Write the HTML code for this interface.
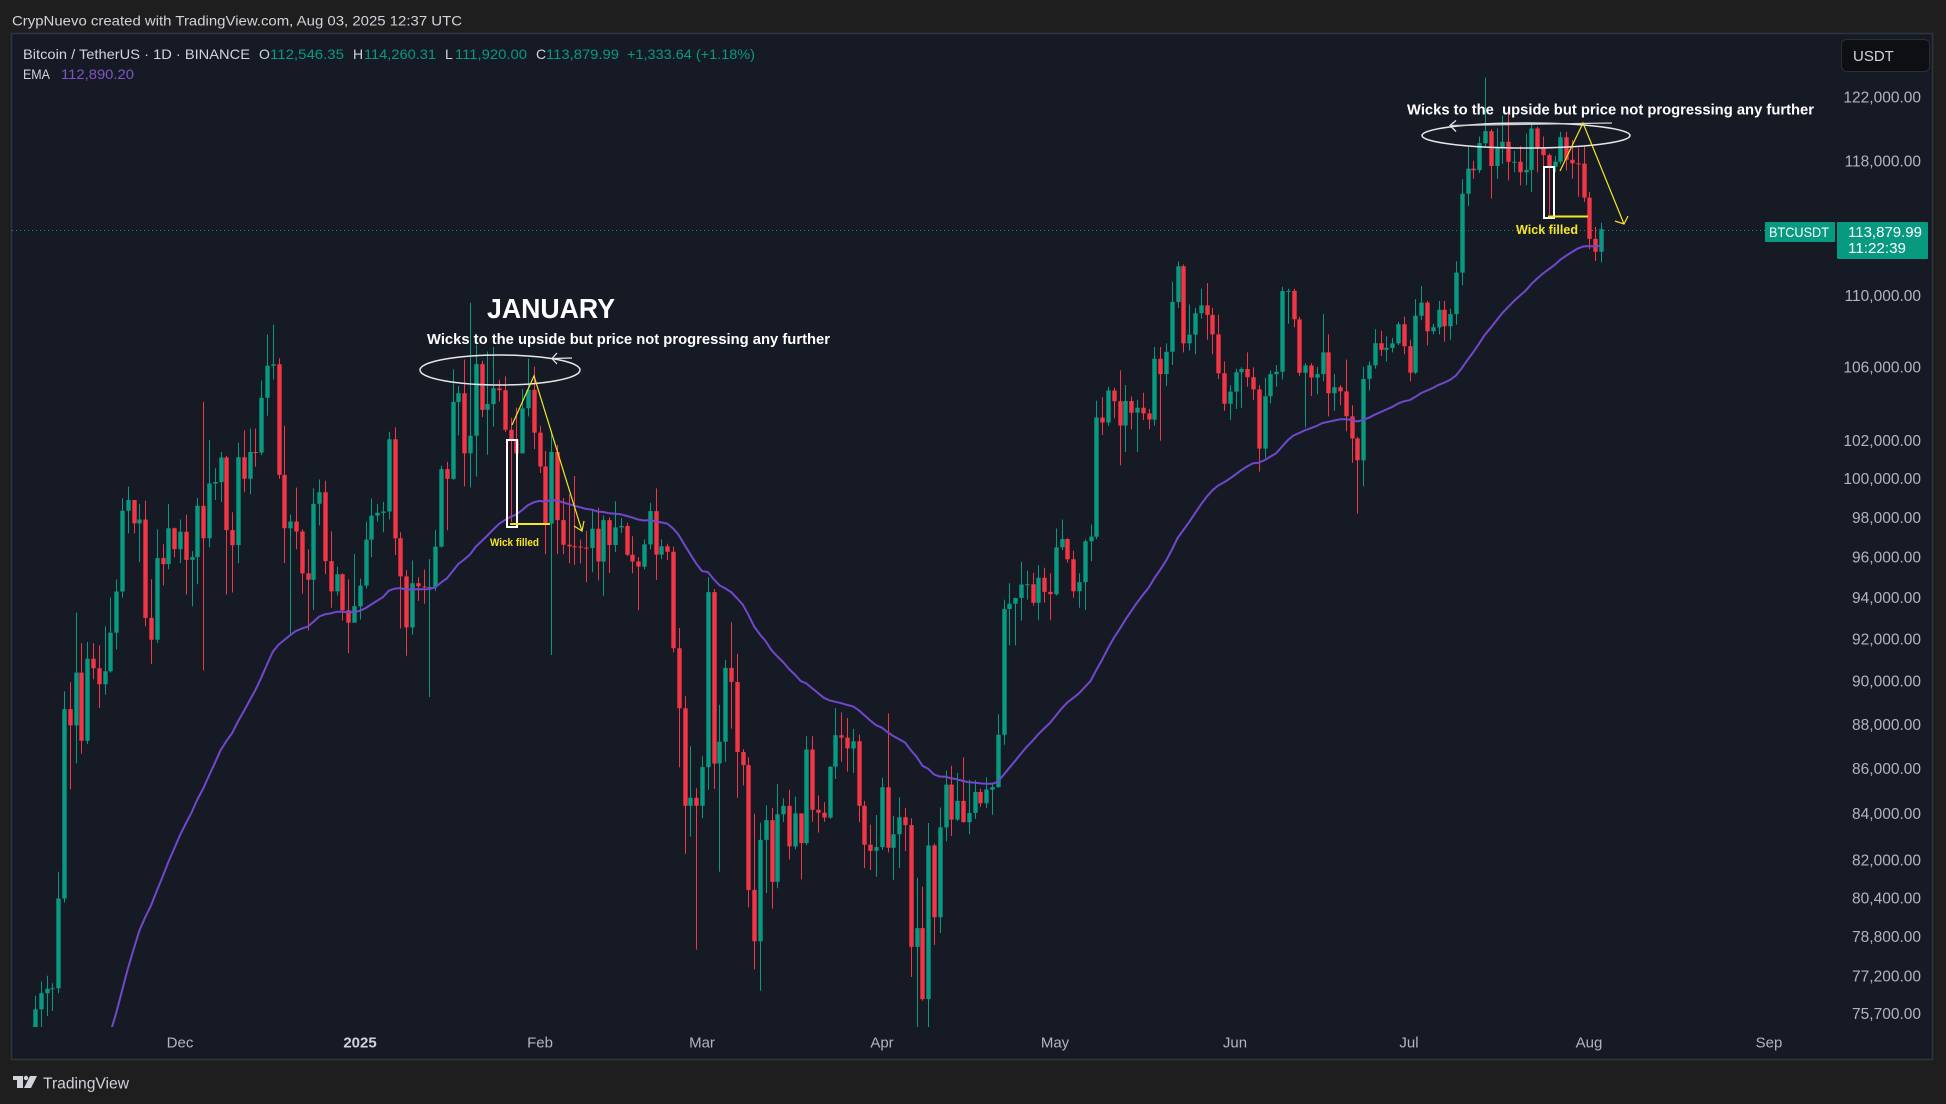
<!DOCTYPE html>
<html><head><meta charset="utf-8">
<style>
html,body{margin:0;padding:0;background:#1e1e1e;width:1946px;height:1104px;overflow:hidden;position:relative}
svg{display:block;position:absolute;left:0;top:0}
text{font-family:"Liberation Sans",sans-serif}
</style></head>
<body>
<svg id="s" width="1946" height="1104" viewBox="0 0 1946 1104" xmlns="http://www.w3.org/2000/svg">
<defs><clipPath id="plot"><rect x="12" y="34" width="1822" height="993"/></clipPath></defs>
<rect width="1946" height="1104" fill="#1e1e1e"/>
<text x="12" y="25.5" font-size="14" fill="#d1d4dc" textLength="450" lengthAdjust="spacingAndGlyphs">CrypNuevo created with TradingView.com, Aug 03, 2025 12:37 UTC</text>
<rect x="11.5" y="33.5" width="1921" height="1026" fill="#161a25" stroke="#30343e" stroke-width="1.5"/>

<!-- legend -->
<g font-size="14">
<text x="23" y="59" fill="#d1d4dc" textLength="227" lengthAdjust="spacingAndGlyphs">Bitcoin / TetherUS · 1D · BINANCE</text>
<text x="259" y="59" fill="#d1d4dc">O</text>
<text x="270" y="59" fill="#089981" textLength="74" lengthAdjust="spacingAndGlyphs">112,546.35</text>
<text x="353" y="59" fill="#d1d4dc">H</text>
<text x="364" y="59" fill="#089981" textLength="72" lengthAdjust="spacingAndGlyphs">114,260.31</text>
<text x="445" y="59" fill="#d1d4dc">L</text>
<text x="455" y="59" fill="#089981" textLength="72" lengthAdjust="spacingAndGlyphs">111,920.00</text>
<text x="536" y="59" fill="#d1d4dc">C</text>
<text x="546" y="59" fill="#089981" textLength="73" lengthAdjust="spacingAndGlyphs">113,879.99</text>
<text x="627" y="59" fill="#089981" textLength="128" lengthAdjust="spacingAndGlyphs">+1,333.64 (+1.18%)</text>
<text x="23" y="79" fill="#d1d4dc" textLength="27" lengthAdjust="spacingAndGlyphs">EMA</text>
<text x="61" y="79" fill="#7e57c2" textLength="73" lengthAdjust="spacingAndGlyphs">112,890.20</text>
</g>

<!-- USDT button -->
<rect x="1841.5" y="39.5" width="88" height="32" rx="5" fill="#0e0f12" stroke="#2a2e39"/>
<text x="1853" y="61" font-size="15" fill="#d1d4dc">USDT</text>

<!-- current price line -->
<line x1="12" y1="230.5" x2="1765" y2="230.5" stroke="#089981" stroke-width="1" stroke-dasharray="1,3"/>

<!-- candles -->
<g clip-path="url(#plot)">
<path id="gw" stroke="#089981" stroke-width="1" fill="none"/>
<path id="rw" stroke="#f23645" stroke-width="1" fill="none"/>
<path id="gb" fill="#089981"/>
<path id="rb" fill="#f23645"/>
<polyline id="ema" fill="none" stroke="#7048cc" stroke-width="2" stroke-linejoin="round"/>
</g>

<!-- price axis labels -->
<g font-size="15.5" fill="#b2b5be" text-anchor="end">
<text x="1921" y="102.3">122,000.00</text>
<text x="1921" y="166.3">118,000.00</text>
<text x="1921" y="301.1">110,000.00</text>
<text x="1921" y="372.3">106,000.00</text>
<text x="1921" y="446.2">102,000.00</text>
<text x="1921" y="484.2">100,000.00</text>
<text x="1921" y="523">98,000.00</text>
<text x="1921" y="562.6">96,000.00</text>
<text x="1921" y="603.1">94,000.00</text>
<text x="1921" y="644.4">92,000.00</text>
<text x="1921" y="686.6">90,000.00</text>
<text x="1921" y="729.8">88,000.00</text>
<text x="1921" y="773.9">86,000.00</text>
<text x="1921" y="819.1">84,000.00</text>
<text x="1921" y="865.4">82,000.00</text>
<text x="1921" y="903.3">80,400.00</text>
<text x="1921" y="941.9">78,800.00</text>
<text x="1921" y="981.3">77,200.00</text>
<text x="1921" y="1019">75,700.00</text>
</g>

<!-- price tag -->
<rect x="1765" y="222" width="70" height="20" rx="1" fill="#089981"/>
<text x="1769" y="237" font-size="14" fill="#ffffff" textLength="60" lengthAdjust="spacingAndGlyphs">BTCUSDT</text>
<rect x="1837" y="222" width="91" height="37" rx="1" fill="#089981"/>
<text x="1848" y="237" font-size="15" fill="#ffffff" textLength="74" lengthAdjust="spacingAndGlyphs">113,879.99</text>
<text x="1848" y="253" font-size="15" fill="#ffffff" textLength="58" lengthAdjust="spacingAndGlyphs">11:22:39</text>

<!-- time axis -->
<g font-size="15" fill="#b2b5be" text-anchor="middle">
<text x="180" y="1047.5">Dec</text>
<text x="360" y="1047.5" font-weight="bold" fill="#d1d4dc">2025</text>
<text x="540" y="1047.5">Feb</text>
<text x="702" y="1047.5">Mar</text>
<text x="882" y="1047.5">Apr</text>
<text x="1055" y="1047.5">May</text>
<text x="1235" y="1047.5">Jun</text>
<text x="1409" y="1047.5">Jul</text>
<text x="1589" y="1047.5">Aug</text>
<text x="1769" y="1047.5">Sep</text>
</g>

<!-- January annotation -->
<text x="487" y="318" font-size="28" font-weight="bold" fill="#ffffff" textLength="128" lengthAdjust="spacingAndGlyphs">JANUARY</text>
<text x="427" y="344" font-size="15" font-weight="bold" fill="#ffffff" textLength="403" lengthAdjust="spacingAndGlyphs">Wicks to the upside but price not progressing any further</text>
<ellipse cx="500" cy="370" rx="80" ry="15" fill="none" stroke="#e6e6e6" stroke-width="1.5"/>
<polyline points="557,353 552,358.5 557,364" fill="none" stroke="#e6e6e6" stroke-width="1.3"/>
<line x1="552" y1="358.5" x2="572" y2="358" stroke="#e6e6e6" stroke-width="1.3"/>
<rect x="507" y="440" width="10" height="87" fill="none" stroke="#ffffff" stroke-width="2"/>
<line x1="510" y1="524" x2="550" y2="524" stroke="#f5e526" stroke-width="2"/>
<polyline points="512,425 534,376 582,531" fill="none" stroke="#f5e526" stroke-width="1.2"/>
<polyline points="574,526 582,531 584,521" fill="none" stroke="#f5e526" stroke-width="1.2"/>
<text x="490" y="546" font-size="11" font-weight="bold" fill="#f5e526" textLength="49" lengthAdjust="spacingAndGlyphs">Wick filled</text>

<!-- July annotation -->
<text x="1407" y="114.5" font-size="15" font-weight="bold" fill="#ffffff" style="white-space:pre" textLength="407" lengthAdjust="spacingAndGlyphs">Wicks to the  upside but price not progressing any further</text>
<ellipse cx="1526" cy="135.5" rx="104" ry="12.5" fill="none" stroke="#e6e6e6" stroke-width="1.5"/>
<line x1="1612" y1="123" x2="1450" y2="125.5" stroke="#d0d0d0" stroke-width="1.3"/>
<polyline points="1456,120.5 1450,125.5 1456,131.5" fill="none" stroke="#e6e6e6" stroke-width="1.3"/>
<rect x="1544" y="167" width="10" height="51" fill="none" stroke="#ffffff" stroke-width="2"/>
<line x1="1548" y1="216.5" x2="1588" y2="216.5" stroke="#f5e526" stroke-width="2"/>
<polyline points="1560,171 1583,123 1624,224" fill="none" stroke="#f5e526" stroke-width="1.2"/>
<polyline points="1615,221 1624,224 1628,216" fill="none" stroke="#f5e526" stroke-width="1.2"/>
<text x="1516" y="234" font-size="13" font-weight="bold" fill="#f5e526" textLength="62" lengthAdjust="spacingAndGlyphs">Wick filled</text>

<!-- footer logo -->
<g fill="#d1d4dc">
<rect x="13" y="1076" width="10" height="4"/>
<rect x="17" y="1076" width="6" height="12"/>
<circle cx="26" cy="1078" r="2.2"/>
<polygon points="30,1076 37,1076 31,1088 24,1088"/>
</g>
<text x="43" y="1088.5" font-size="16" fill="#d1d4dc" textLength="86" lengthAdjust="spacingAndGlyphs">TradingView</text>
</svg>

<script>
(function(){
var M = [
[-25,"76.4,69.3,75.86;76.97,74.48,76.5;77.2,75.6,76.68;76.9,75.8,76.7;81.5,76.5,80.37;89.53,80.2,88.7;89.95,85.07,87.95;93.27,86.23,90.4;91.79,86.67,87.25;91.85,87.1,91.05;91.8,90.09,90.6;91.7,88.75,89.85;92.6,89.37,90.46;94,90.4,92.3;94.9,91.5,94.3;98.98,94,98.35;99.59,97.2,98.9;98.8,97.2,97.7;98.7,95.75,97.9;98.87,92.6,93.01;94.9,90.8,91.96;97.4,91.8,95.95;96.65,94.6,95.65;98.7,95.4,97.45;97.49,96,96.4"],
[0,"97.9,95.7,97.28;98.15,94.15,95.86;96.3,93.58,96;99,94.65,98.6;104.09,90.5,96.95;102.04,96.5,99.75;100.55,98.9,99.83;101.4,98.8,101.11;101.2,94.15,97.36;98.27,94.25,96.6;101.9,95.7,101.12;102.54,99.3,100;102.65,99.2,101.4;102.65,100.63,101.37;105.25,101.23,104.3;107.79,103.33,106.06;108.35,105.3,106.14;106.47,100,100.2;102.8,95.7,97.46;98.15,92.23,97.8;99.54,96.4,97.29;97.4,94.2,95.19;96.4,92.4,94.88;99.5,93.4,98.7;99.96,97.6,99.3;99.89,95.15,95.8;97.3,93.5,94.3;95.53,94.1,95.15;95.2,92.88,93.38;94.9,91.32,92.78;96.15,92.9,93.58"],
[31,"94.93,92.93,94.59;97.8,94.45,96.88;98.98,96,98.1;98.7,97.8,98.24;98.8,97.25,98.31;102.48,97.9,102.08;102.72,96.1,96.95;97.25,92.5,95.04;95.35,91.2,92.55;95.83,92.2,94.7;95,93.84,94.55;95.38,93.7,94.5;95.9,89.26,94.52;97.37,94.32,96.53;100.68,96.48,100.5;100.88,97.35,99.99;105.86,99.95,104.08;104.95,102.28,104.55;106.4,99.6,101.33;109.59,99.55,102.26;107.24,100.1,106.15;106.33,103.26,103.65;106.85,101.26,103.96;107.1,102.75,104.82;105.29,104.1,104.71;105.47,102.46,102.58;103.22,97.78,102.08;103.78,100.28,101.33;104.78,101.33,103.73;106.46,103.3,104.73;106.01,101.56,102.43"],
[62,"102.8,100.3,100.64;101.45,96.15,97.69;102.5,91.23,101.4;101.77,96.15,97.87;99,96.15,96.62;99.2,95.7,96.55;100.14,95.62,96.53;96.88,95.69,96.48;97.32,94.75,96.46;98.35,95.25,97.43;98.5,94.85,95.78;98.12,94.09,97.87;98,95.21,96.61;98.83,96.25,97.5;97.97,97.22,97.57;97.73,96.05,96.12;97.05,95.2,95.78;96,93.39,95.53;96.89,95.4,96.64;98.75,96.4,98.33;99.5,94.87,96.13;96.9,95.9,96.55;96.67,95.85,96.27;96.52,91.35,91.55;92.53,86.05,88.74;89.29,82.26,84.35;87,83,84.7;85.12,78.26,84.35"],
[90,"86.55,83.8,86.06;95,85.05,94.27;94.42,85.09,86.22;88.9,81.5,87.2;91,86.3,90.62;92.8,87.8,89.96;91.28,84.7,86.74;86.87,85.24,86.15;86.5,80,80.73;84,77.46,78.6;83.6,76.6,82.86;84.36,80.6,83.72;84.25,79.94,81.07;85.3,80.8,83.97;84.68,83.64,84.34;85.05,82.02,82.58;84.75,82.46,84.01;83.96,81.18,82.72;87.45,82.63,86.85;87.45,83.65,84.17;84.8,83.18,84.04;84.5,83.65,83.83;86.1,83.78,86.08;88.75,85.53,87.5;88.54,86.3,87.39;88.29,85.86,86.9;87.79,85.8,87.23;87.52,83.63,84.35;84.56,81.65,82.65;83.52,81.57,82.39;83.94,81.28,82.55"],
[121,"85.58,82.43,85.16;88.5,82.32,82.52;83.9,81.16,83.1;84.72,81.66,83.84;84.25,82.38,83.5;83.8,77.15,78.37;81.24,74.5,79.14;80.86,76.2,76.27;83.59,74.62,82.62;82.7,78.45,79.59;84.27,78.94,83.4;85.9,82.8,85.28;86.12,83.03,83.74;85.8,83.68,84.56;86.5,83.6,83.63;85.5,83.1,84.03;85.47,83.77,84.95;85.1,84.3,84.45;85.6,84.25,85.06;85.32,83.95,85.17;88.46,85.14,87.52;93.89,87.07,93.44;94.7,91.7,93.7;94,91.7,93.98;95.76,92.87,94.64;95.32,93.9,94.65;95.22,93.6,93.75;95.6,92.9,94.98;95.47,93.75,94.28;95.2,92.9,94.17"],
[151,"97.44,94.1,96.49;97.9,96.35,96.91;96.95,95.72,95.89;96.32,94,94.31;95.2,93.5,94.75;96.9,93.4,96.8;97.65,95.8,97.03;104.14,96.9,103.24;104.33,102.3,102.97;104.9,102.8,104.7;104.85,103.2,104.12;105.8,100.7,102.81;105,101.4,104.13;104.38,102.6,103.5;104.2,101.4,103.76;104.58,103.1,103.46;103.7,102.6,103.13;107.1,102.8,106.45;107.1,102,105.6;107.3,104.95,106.83;110.8,106.1,109.64;111.98,109.3,111.7;111.8,106.8,107.3;109.5,106.9,107.79;109.3,106.7,109;110.4,108.7,109.44;110.72,107.5,108.9;109.3,106.7,107.8;108.9,105.33,105.64;106.3,103.6,103.98;104.99,103.1,104.64"],
[182,"105.9,103.7,105.7;105.98,103.75,105.88;106.8,104.9,105.43;105.97,104.2,104.76;105,100.37,101.58;105.4,101.1,104.39;105.8,104,105.6;106.1,104.9,105.73;110.5,105.3,110.26;110.4,108.4,110.27;110.4,108.2,108.65;108.8,105.5,105.67;106.2,102.7,106.07;106.2,104.4,105.41;106,104.5,105.6;108.95,105.2,106.8;107.8,103.3,104.55;105.6,103.6,104.88;105,103.9,104.65;106.4,102.5,103.3;103.9,100.84,102.12;102.2,98.2,100.96;106,99.6,105.33;106.3,104.7,106.08;108.1,105.9,107.31;108,106.6,106.95;107.7,106.3,107.05;107.6,106.8,107.3;108.5,107.2,108.37;108.8,106.7,107.14"],
[212,"107.5,105.2,105.68;109.8,105.6,108.85;110.55,108.6,109.6;109.7,107.2,107.98;108.4,107.8,108.2;109.7,107.8,109.2;109.7,107.4,108.26;109.25,107.5,108.95;111.99,108.35,111.33;116.87,110.6,115.99;118.87,115.25,117.52;118,116.9,117.42;119.5,117.25,119.09;123.22,118.9,119.84;119.95,115.7,117.68;120,116.9,118.78;120.8,117.8,119.17;120.88,116.8,117.94;118.6,117.3,117.94;118.9,116.5,117.3;119.68,116.5,117.44;120.25,116.1,120;120.1,117.3,118.75;119.5,117.4,118.35;118.45,114.72,117.64;118.3,117.3,117.95;119.8,117.8,119.45;119.8,117.4,118.06;119.28,116.9,117.84;118.8,115.8,117.83;118.9,115.5,115.76"],
[243,"116.1,112.7,113.3;114,112,112.55;114.26,111.92,113.88"]
];
var K=1920.9,Y0=96.75,LP=Math.log(122),YMAX=1028;
function Y(p){return Y0+K*(LP-Math.log(p));}
function cl(v){return Math.max(34,Math.min(YMAX,v));}
function f(v){return Math.round(v*10)/10;}
var o=70.0,gw='',rw='',gb='',rb='',ema=66.5,a=2/51,pts=[],px=null,py=null;
for(var m=0;m<M.length;m++){
  var rows=M[m][1].split(';');
  for(var j=0;j<rows.length;j++){
    var r=rows[j].split(',').map(Number);
    var h=r[0],l=r[1],c=r[2];
    var d=M[m][0]+j;
    var x=180+5.8*d;
    var xr=Math.round(x)+0.5;
    var yo=cl(Y(o)),yc=cl(Y(c)),yh=cl(Y(h)),yl=cl(Y(l));
    var top=Math.min(yo,yc),bh=Math.max(1,Math.abs(yo-yc));
    var up=c>=o;
    var w='M'+xr+' '+f(yh)+'V'+f(yl);
    var b='M'+f(xr-2.2)+' '+f(top)+'h4.4v'+f(bh)+'h-4.4z';
    if(up){gw+=w;gb+=b;}else{rw+=w;rb+=b;}
    ema=ema+a*(c-ema);
    var ey=Y(ema);
    if(ey<=YMAX){
      if(pts.length===0&&px!==null&&py>YMAX){
        var t=(py-YMAX)/(py-ey);
        pts.push(f(px+t*(x-px))+','+YMAX);
      }
      pts.push(f(x)+','+f(ey));
    }
    px=x;py=ey;
    o=c;
  }
}
document.getElementById('gw').setAttribute('d',gw);
document.getElementById('rw').setAttribute('d',rw);
document.getElementById('gb').setAttribute('d',gb);
document.getElementById('rb').setAttribute('d',rb);
document.getElementById('ema').setAttribute('points',pts.join(' '));
})();
</script>
</body></html>
